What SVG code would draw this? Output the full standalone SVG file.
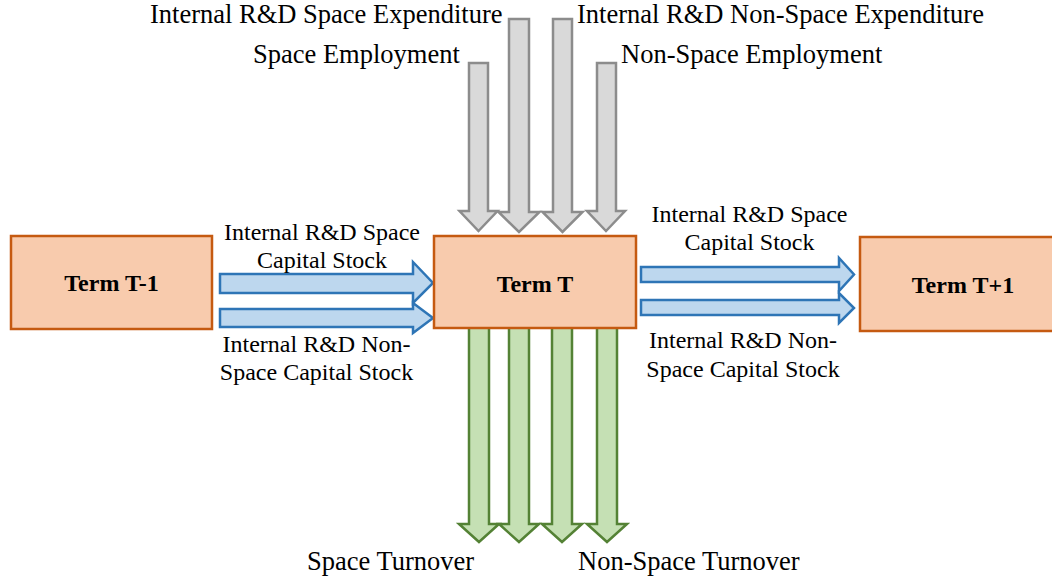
<svg xmlns="http://www.w3.org/2000/svg" width="1052" height="582" viewBox="0 0 1052 582">
<style>
.box{fill:#F8CBAD;stroke:#C55A11;stroke-width:2.5}
.grey{fill:#D9D9D9;stroke:#8C8C8C;stroke-width:2.5;stroke-linejoin:miter}
.green{fill:#C5E0B4;stroke:#548235;stroke-width:2.5;stroke-linejoin:miter}
.blue{fill:#BDD7EE;stroke:#2E75B6;stroke-width:2.5;stroke-linejoin:miter}
.lbl{font-family:"Liberation Serif","Times New Roman",serif;font-size:26.5px;fill:#000}
.side{font-family:"Liberation Serif","Times New Roman",serif;font-size:24px;fill:#000;text-anchor:middle}
.term{font-family:"Liberation Serif","Times New Roman",serif;font-size:24px;font-weight:bold;fill:#000;text-anchor:middle}
</style>
<rect width="1052" height="582" fill="#fff"/>
<g id="connectors">
  <path class="grey" d="M469,63 H488 V211 H497.5 L478.5,231 L459.5,211 H469 Z"/>
  <path class="grey" d="M509,19 H529 V212 H539.5 L519,232 L498.5,212 H509 Z"/>
  <path class="grey" d="M553,19 H572 V212 H582.5 L562.5,232 L542.5,212 H553 Z"/>
  <path class="grey" d="M597,63 H616 V211 H625 L606,231 L587,211 H597 Z"/>
  <path class="green" d="M469,327 H489 V524 H499 L479,542 L459,524 H469 Z"/>
  <path class="green" d="M509,327 H529 V524 H539 L519,542 L499,524 H509 Z"/>
  <path class="green" d="M552,327 H572 V524 H582 L562,542 L542,524 H552 Z"/>
  <path class="green" d="M597,327 H617 V524 H627 L607,542 L587,524 H597 Z"/>
  <path class="blue" d="M220,274 H413 V262 L433,283 L413,303 V293 H220 Z"/>
  <path class="blue" d="M220,309 H413 V303 L433,318 L413,333 V327 H220 Z"/>
  <path class="blue" d="M641,267 H839 V258 L854,274.5 L839,291 V282 H641 Z"/>
  <path class="blue" d="M641,300 H839 V293 L854,308 L839,323 V315 H641 Z"/>
</g>
<g id="node-t-minus-1">
  <rect class="box" x="11" y="236" width="201" height="93"/>
  <text class="term" x="111.5" y="291">Term T-1</text>
</g>
<g id="node-t">
  <rect class="box" x="434" y="236" width="202" height="92"/>
  <text class="term" x="535" y="292">Term T</text>
</g>
<g id="node-t-plus-1">
  <rect class="box" x="860" y="237" width="206" height="94"/>
  <text class="term" x="963" y="293">Term T+1</text>
</g>
<g id="labels">
  <text class="lbl" x="150" y="23">Internal R&amp;D Space Expenditure</text>
  <text class="lbl" x="577" y="23">Internal R&amp;D Non-Space Expenditure</text>
  <text class="lbl" x="253" y="63">Space Employment</text>
  <text class="lbl" x="621" y="63">Non-Space Employment</text>
  <text class="lbl" x="307" y="570">Space Turnover</text>
  <text class="lbl" x="578" y="570">Non-Space Turnover</text>
  <text class="side" x="322" y="240">Internal R&amp;D Space</text>
  <text class="side" x="322" y="268">Capital Stock</text>
  <text class="side" x="316.5" y="352">Internal R&amp;D Non-</text>
  <text class="side" x="316.5" y="380">Space Capital Stock</text>
  <text class="side" x="749.5" y="222">Internal R&amp;D Space</text>
  <text class="side" x="749.5" y="250">Capital Stock</text>
  <text class="side" x="743" y="348">Internal R&amp;D Non-</text>
  <text class="side" x="743" y="377">Space Capital Stock</text>
</g>
</svg>
